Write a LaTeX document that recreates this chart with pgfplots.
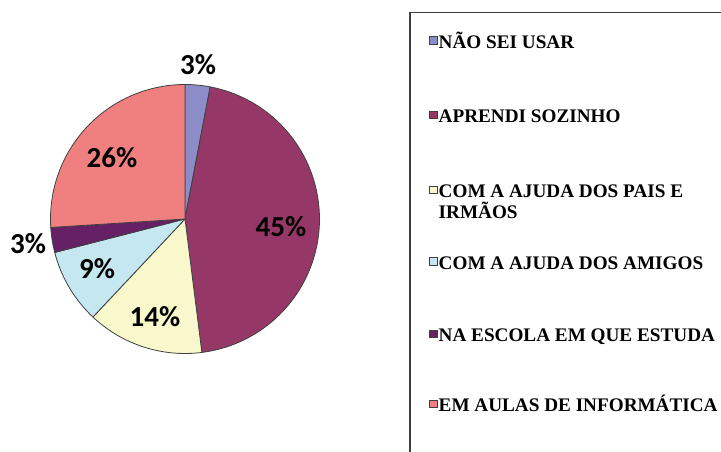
\documentclass[border=0pt]{standalone}
\usepackage{pgfplots}
\pgfplotsset{compat=1.18}
\usepackage{fontspec}
\setmainfont{Liberation Serif}
\newfontfamily\lblfont{Carlito}
\definecolor{cA}{HTML}{8C8CC8}
\definecolor{cB}{HTML}{953867}
\definecolor{cC}{HTML}{F8F8CC}
\definecolor{cD}{HTML}{C5E7F0}
\definecolor{cE}{HTML}{652066}
\definecolor{cF}{HTML}{F08080}
\definecolor{pieline}{HTML}{404040}
% slice: #1 cumulative percent before, #2 cumulative percent after, #3 colour
\newcommand{\pieslice}[3]{%
  \addplot[draw=pieline, line width=0.8bp, fill=#3, domain={90-3.6*#2}:{90-3.6*#1}, samples=80, variable=\t]
    ({185+134.5*cos(\t)},{219-134.5*sin(\t)}) -- (axis cs:185,219) -- cycle;
}
\tikzset{legtext/.style={anchor=base west, inner sep=0pt, font=\fontsize{19.2bp}{21bp}\selectfont\bfseries}}
\newcommand{\legentry}[3]{% #1 baseline, #2 colour, #3 text
  \addplot[only marks, mark=square*, mark size=3.8bp, mark options={fill=#2, draw=pieline, line width=0.6bp}] coordinates {(433,#1-8)};
  \node[legtext] at (axis cs:438.5,#1) {#3};
}
\begin{document}
\begin{tikzpicture}
\useasboundingbox (0,0) rectangle (721bp,452bp);
\clip (0,0) rectangle (721bp,452bp);
\begin{axis}[at={(0,0)}, anchor=south west, scale only axis, width=721bp, height=452bp,
  xmin=0, xmax=721, ymin=0, ymax=452, y dir=reverse, hide axis, clip=false]
% percentages: 3, 45, 14, 9, 3, 26
\pieslice{0}{3}{cA}
\pieslice{3}{48}{cB}
\pieslice{48}{62}{cC}
\pieslice{62}{71}{cD}
\pieslice{71}{74}{cE}
\pieslice{74}{100}{cF}
\begin{scope}[every node/.style={font=\lblfont\fontsize{29bp}{32bp}\selectfont\bfseries, inner sep=0pt}]
\node at (axis cs:198,65) {3\%};
\node at (axis cs:281,227) {45\%};
\node at (axis cs:155,317) {14\%};
\node at (axis cs:97,269) {9\%};
\node at (axis cs:28,244) {3\%};
\node at (axis cs:112,158) {26\%};
\end{scope}
\draw[pieline, line width=1.3bp] (axis cs:410,470) -- (axis cs:410,12.5) -- (axis cs:740,12.5);
\legentry{48.3}{cA}{NÃO SEI USAR}
\legentry{122.7}{cB}{APRENDI SOZINHO}
\legentry{197.7}{cC}{COM A AJUDA DOS PAIS E}
\node[legtext] at (axis cs:438.5,218.3) {IRMÃOS};
\legentry{269.3}{cD}{COM A AJUDA DOS AMIGOS}
\legentry{341.7}{cE}{NA ESCOLA EM QUE ESTUDA}
\legentry{411.7}{cF}{EM AULAS DE INFORMÁTICA}
\end{axis}
\end{tikzpicture}
\end{document}
